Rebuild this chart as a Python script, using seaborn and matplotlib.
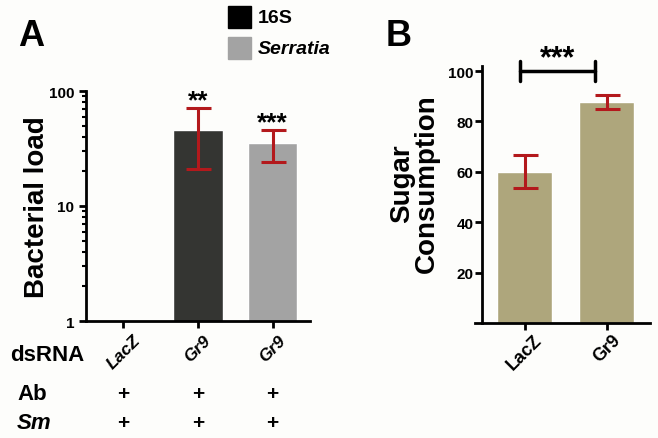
import numpy as np
import pandas as pd
import matplotlib
matplotlib.use("Agg")
import matplotlib.pyplot as plt
import seaborn as sns
from matplotlib.patches import Rectangle
from matplotlib.ticker import FixedLocator, NullFormatter

# panel A data
a_keys = ["LacZ", "Gr9_16S", "Gr9_Serratia"]
a_labels = ["LacZ", "Gr9", "Gr9"]
a_values = [np.nan, 46.0, 35.0]
a_errors = [np.nan, 25.0, 11.0]
a_stars = ["", "**", "***"]
a_ab = ["+", "+", "+"]
a_sm = ["+", "+", "+"]
a_colors = ["#343532", "#343532", "#a3a3a3"]
legend_labels = ["16S", "Serratia"]

# panel B data
b_labels = ["LacZ", "Gr9"]
b_values = [60.0, 87.7]
b_errors = [6.5, 2.8]
b_stars = "***"

RED = "#b3191c"
KHAKI = "#aea67c"

sns.set_theme(style="ticks")
plt.rcParams["font.family"] = ["Liberation Sans", "DejaVu Sans"]
plt.rcParams["font.weight"] = "bold"
plt.rcParams["text.color"] = "black"
plt.rcParams["axes.labelcolor"] = "black"
plt.rcParams["xtick.color"] = "black"
plt.rcParams["ytick.color"] = "black"

fig = plt.figure(figsize=(6.58, 4.39), dpi=100)
fig.patch.set_facecolor("#fdfdfb")

# ---------------- panel A ----------------
axA = fig.add_axes([86 / 658, 1 - 322 / 439, (310 - 86) / 658, (322 - 92) / 439])
axA.set_facecolor("none")
dfa = pd.DataFrame({"key": a_keys, "value": a_values})
sns.barplot(data=dfa, x="key", y="value", hue="key", palette=a_colors,
            legend=False, width=0.66, saturation=1, ax=axA, errorbar=None)
axA.errorbar(range(len(a_keys)), a_values, yerr=a_errors, fmt="none",
             ecolor=RED, elinewidth=2.2, capsize=9, capthick=2.2)
axA.set_yscale("log")
axA.set_ylim(1, 100)
axA.set_xlim(-0.5, 2.5)
axA.yaxis.set_major_locator(FixedLocator([1, 10, 100]))
axA.yaxis.set_minor_locator(FixedLocator(
    [m * d for d in (1, 10) for m in range(2, 10)]))
axA.yaxis.set_minor_formatter(NullFormatter())
axA.set_yticklabels(["1", "10", "100"], fontsize=11, fontweight="bold")
axA.set_xticks(range(len(a_keys)))
axA.set_xticklabels(a_labels, rotation=45, fontsize=12.5, fontstyle="italic",
                    fontweight="bold", ha="center", va="top")
axA.set_xlabel("")
axA.set_ylabel("Bacterial load", fontsize=20, fontweight="bold")
axA.yaxis.set_label_coords(-36 / 224, 0.5)
sns.despine(ax=axA)
for sp in ("left", "bottom"):
    axA.spines[sp].set_linewidth(2)
    axA.spines[sp].set_color("black")
axA.tick_params(axis="both", which="major", width=2, length=5, color="black")
axA.tick_params(axis="y", which="minor", width=1.5, length=3, color="black")
axA.tick_params(axis="x", pad=3)
for i, s in enumerate(a_stars):
    if s:
        top = a_values[i] + a_errors[i]
        axA.annotate(s, (i, top), xytext=(0, -3), textcoords="offset points",
                     ha="center", va="bottom", fontsize=19, fontweight="bold")

# rows below panel A
fig.text(10 / 658, 1 - 356 / 439, "dsRNA", fontsize=16, fontweight="bold",
         va="center", ha="left")
fig.text(17 / 658, 1 - 395 / 439, "Ab", fontsize=16, fontweight="bold",
         va="center", ha="left")
fig.text(17 / 658, 1 - 424 / 439, "Sm", fontsize=16, fontweight="bold",
         fontstyle="italic", va="center", ha="left")
for i in range(len(a_keys)):
    xf = axA.transData.transform((i, 1))[0]
    xf = fig.transFigure.inverted().transform((xf, 0))[0]
    fig.text(xf, 1 - 395 / 439, a_ab[i], fontsize=15, fontweight="bold",
             ha="center", va="center")
    fig.text(xf, 1 - 424 / 439, a_sm[i], fontsize=15, fontweight="bold",
             ha="center", va="center")

# legend A
for j, (lab, col) in enumerate(zip(legend_labels, ["#000000", "#a3a3a3"])):
    y0 = 1 - (29 + 31 * j) / 439
    fig.patches.append(Rectangle((228 / 658, y0), 23 / 658, 22 / 439,
                                 transform=fig.transFigure, color=col))
    fig.text(258 / 658, y0 + 11 / 439, lab, fontsize=14, fontweight="bold",
             fontstyle="italic" if j == 1 else "normal", va="center")

fig.text(18 / 658, 1 - 36 / 439, "A", fontsize=26, fontweight="bold",
         va="center", ha="left")
fig.text(386 / 658, 1 - 36 / 439, "B", fontsize=26, fontweight="bold",
         va="center", ha="left")

# ---------------- panel B ----------------
axB = fig.add_axes([475 / 658, 1 - 324 / 439, (650 - 475) / 658, (324 - 67) / 439])
axB.set_facecolor("none")
dfb = pd.DataFrame({"group": b_labels, "value": b_values})
sns.barplot(data=dfb, x="group", y="value", color=KHAKI, width=0.67,
            saturation=1, ax=axB, errorbar=None)
axB.errorbar(range(len(b_labels)), b_values, yerr=b_errors, fmt="none",
             ecolor=RED, elinewidth=2.2, capsize=9, capthick=2.2)
axB.set_xlim(-0.604, 1.53)
axB.set_ylim(0, 102)
axB.set_yticks([20, 40, 60, 80, 100])
axB.set_yticklabels(["20", "40", "60", "80", "100"], fontsize=9,
                    fontweight="bold")
axB.set_xticks(range(len(b_labels)))
axB.set_xticklabels(b_labels, rotation=45, fontsize=13, fontweight="bold")
axB.set_xlabel("")
axB.set_ylabel("Sugar\nConsumption", fontsize=20, fontweight="bold",
               linespacing=0.95)
axB.yaxis.set_label_coords(-35 / 175, 0.545)
sns.despine(ax=axB)
axB.spines["left"].set_position(("axes", 7 / 175))
for sp in ("left", "bottom"):
    axB.spines[sp].set_linewidth(2)
    axB.spines[sp].set_color("black")
axB.tick_params(axis="both", width=2, length=5, color="black", pad=1)

# significance bracket
bx0, bx1 = -0.06, 0.86
by = 100
axB.plot([bx0, bx1], [by, by], color="black", lw=2.5, clip_on=False)
axB.plot([bx0, bx0], [by - 4, by + 4], color="black", lw=2.5, clip_on=False)
axB.plot([bx1, bx1], [by - 4, by + 4], color="black", lw=2.5, clip_on=False)
axB.text((bx0 + bx1) / 2, by - 1, b_stars, ha="center", va="bottom",
         fontsize=22, fontweight="bold", clip_on=False)

fig.savefig("out.png", dpi=100, facecolor=fig.get_facecolor())
